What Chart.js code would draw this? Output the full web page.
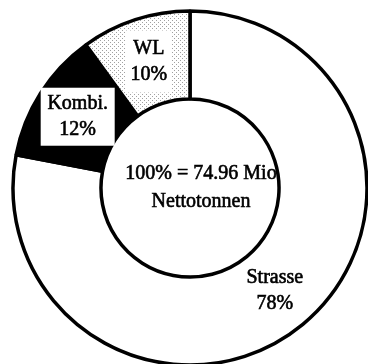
<!DOCTYPE html>
<html><head><meta charset="utf-8">
<script src="https://cdn.jsdelivr.net/npm/chart.js@4"></script>
<style>html,body{margin:0;padding:0;background:#fff;overflow:hidden}</style>
</head><body>
<canvas id="c" width="368" height="364"></canvas>
<script>
const categories = ['Strasse', 'Kombi.', 'WL'];
const shares = [78, 12, 10];
const centerLines = ['100% = 74.96 Mio', 'Nettotonnen'];

const canvas = document.getElementById('c');
const ctx = canvas.getContext('2d');

function dotPattern() {
  const t = document.createElement('canvas');
  t.width = 4; t.height = 4;
  const g = t.getContext('2d');
  g.fillStyle = '#ffffff'; g.fillRect(0, 0, 4, 4);
  g.fillStyle = '#a0a0a0';
  g.fillRect(0, 0, 1, 1); g.fillRect(2, 2, 1, 1);
  return ctx.createPattern(t, 'repeat');
}

const FONT = '20px "Liberation Serif", "Times New Roman", serif';

function heavyText(c, t, x, y) {
  c.fillText(t, x, y);
  c.strokeText(t, x, y);
}

const labelPlugin = {
  id: 'labels',
  afterDatasetsDraw(chart, args, opts) {
    const c = chart.ctx;
    const meta = chart.getDatasetMeta(0);
    c.save();
    c.font = FONT;
    c.textAlign = 'center';
    c.textBaseline = 'middle';
    c.lineWidth = 0.6;
    c.strokeStyle = '#000';
    meta.data.forEach((arc, i) => {
      const p = arc.tooltipPosition();
      const box = opts.boxes[i];
      if (box) {
        c.fillStyle = '#ffffff';
        c.fillRect(p.x - box[0], p.y - box[1], box[0] * 2, box[1] * 2);
      }
      c.fillStyle = '#000';
      const lines = [categories[i], shares[i] + '%'];
      lines.forEach((t, k) => {
        heavyText(c, t, p.x, p.y + (k - 0.5) * opts.lineHeight);
      });
    });
    const a = meta.data[0];
    centerLines.forEach((t, k) => {
      heavyText(c, t, a.x + opts.centerDx, a.y + (k - 0.5) * 28);
    });
    c.restore();
  }
};

new Chart(ctx, {
  type: 'doughnut',
  data: {
    labels: categories,
    datasets: [{
      data: shares,
      backgroundColor: ['#ffffff', '#000000', dotPattern()],
      borderColor: '#000000',
      borderWidth: 3.5
    }]
  },
  options: {
    responsive: false,
    animation: false,
    events: [],
    radius: 177,
    cutout: '50.3%',
    layout: { padding: { left: 12, right: 0, top: 12, bottom: 0 } },
    plugins: {
      legend: { display: false },
      tooltip: { enabled: false },
      labels: { lineHeight: 26, centerDx: 11, boxes: [null, [37, 29], [23, 31]] }
    }
  },
  plugins: [labelPlugin]
});
</script>
</body></html>
